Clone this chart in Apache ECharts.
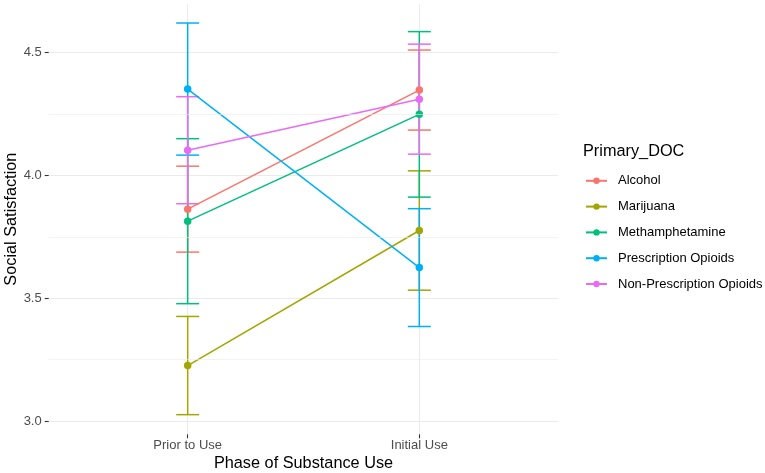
<!DOCTYPE html>
<html>
<head>
<meta charset="utf-8">
<script src="https://cdn.jsdelivr.net/npm/echarts@6/dist/echarts.min.js"></script>
<style>html,body{margin:0;padding:0;background:#fff}#c{width:765px;height:473px}</style>
</head>
<body>
<div id="c"></div>
<script>
// ---- data ----
var categories = ['Prior to Use', 'Initial Use'];
var groupNames = ['Alcohol', 'Marijuana', 'Methamphetamine', 'Prescription Opioids', 'Non-Prescription Opioids'];
var groupColors = ['#F8766D', '#A3A500', '#00BF7D', '#00B0F6', '#E76BF3'];
var alcoholMean = [3.863, 4.348];
var alcoholSE = [0.175, 0.163];
var marijuanaMean = [3.226, 3.776];
var marijuanaSE = [0.200, 0.243];
var methMean = [3.814, 4.249];
var methSE = [0.336, 0.337];
var rxOpioidMean = [4.352, 3.625];
var rxOpioidSE = [0.269, 0.240];
var nonRxOpioidMean = [4.103, 4.311];
var nonRxOpioidSE = [0.218, 0.224];
var yMajorTicks = [3.0, 3.5, 4.0, 4.5];
var yMinorTicks = [3.25, 3.75, 4.25];

var means = [alcoholMean, marijuanaMean, methMean, rxOpioidMean, nonRxOpioidMean];
var ses = [alcoholSE, marijuanaSE, methSE, rxOpioidSE, nonRxOpioidSE];
var xPos = categories.map(function (c, i) { return i + 1; });

var FONT = 'Liberation Sans, Arial, sans-serif';
var chart = echarts.init(document.getElementById('c'), null, { renderer: 'canvas' });

var series = [];
// error bars
groupNames.forEach(function (name, g) {
  var d = xPos.map(function (x, i) {
    return [x, means[g][i] - ses[g][i], means[g][i] + ses[g][i]];
  });
  series.push({
    type: 'custom',
    name: name + ' SE',
    z: 1,
    silent: true,
    data: d,
    renderItem: function (params, api) {
      var x = api.value(0);
      var lo = api.coord([x, api.value(1)]);
      var hi = api.coord([x, api.value(2)]);
      var hw = 11.5;
      var st = { stroke: groupColors[g], lineWidth: 1.5 };
      return {
        type: 'group',
        children: [
          { type: 'line', shape: { x1: lo[0], y1: lo[1], x2: hi[0], y2: hi[1] }, style: st },
          { type: 'line', shape: { x1: lo[0] - hw, y1: lo[1], x2: lo[0] + hw, y2: lo[1] }, style: st },
          { type: 'line', shape: { x1: hi[0] - hw, y1: hi[1], x2: hi[0] + hw, y2: hi[1] }, style: st }
        ]
      };
    }
  });
});
// lines + points
groupNames.forEach(function (name, g) {
  series.push({
    type: 'line',
    name: name,
    z: 2,
    data: xPos.map(function (x, i) { return [x, means[g][i]]; }),
    symbol: 'circle',
    symbolSize: 7.5,
    showSymbol: true,
    itemStyle: { color: groupColors[g] },
    lineStyle: { color: groupColors[g], width: 1.5 },
    emphasis: { disabled: true },
    animation: false
  });
});
// minor gridlines
series.push({
  type: 'line',
  name: 'minorgrid',
  data: [],
  z: 0,
  silent: true,
  markLine: {
    silent: true,
    symbol: 'none',
    label: { show: false },
    lineStyle: { color: '#EBEBEB', width: 0.6, type: 'solid' },
    data: yMinorTicks.map(function (v) { return { yAxis: v }; }),
    animation: false
  }
});

chart.setOption({
  animation: false,
  backgroundColor: '#ffffff',
  textStyle: { fontFamily: FONT },
  grid: { left: 48.7, right: 206.7, top: 4, bottom: 38.7, containLabel: false, outerBoundsMode: 'none' },
  title: {
    text: 'Primary_DOC',
    left: 583, top: 142, padding: 0,
    textStyle: { fontFamily: FONT, fontSize: 16.3, fontWeight: 'normal', color: '#000', lineHeight: 20 }
  },
  legend: {
    data: groupNames,
    orient: 'vertical',
    left: 585, top: 173.8,
    itemWidth: 21, itemHeight: 8, itemGap: 11.8,
    padding: 0,
    textStyle: { fontFamily: FONT, fontSize: 13, lineHeight: 14, color: '#000', padding: [0, 0, 0, 6] },
    selectedMode: false
  },
  xAxis: {
    type: 'value',
    min: 0.4, max: 2.6,
    name: 'Phase of Substance Use',
    nameLocation: 'middle',
    nameGap: 21.5,
    nameMoveOverlap: false,
    nameTextStyle: { fontFamily: FONT, fontSize: 16.3, color: '#000' },
    axisLine: { show: false },
    axisTick: { show: true, customValues: xPos, length: 4, lineStyle: { color: '#333', width: 1.1 } },
    axisLabel: {
      customValues: xPos, margin: 5,
      fontFamily: FONT, fontSize: 13, color: '#4D4D4D',
      formatter: function (v) { return categories[Math.round(v) - 1] || ''; }
    },
    splitLine: { show: true, lineStyle: { color: '#EBEBEB', width: 1.1 } }
  },
  yAxis: {
    type: 'value',
    min: 2.946, max: 4.6985,
    name: 'Social Satisfaction',
    nameLocation: 'middle',
    nameRotate: 90,
    nameGap: 29.5,
    nameMoveOverlap: false,
    nameTextStyle: { fontFamily: FONT, fontSize: 16.3, color: '#000' },
    axisLine: { show: false },
    axisTick: { show: true, customValues: yMajorTicks, length: 4, lineStyle: { color: '#333', width: 1.1 } },
    axisLabel: {
      customValues: yMajorTicks, margin: 7,
      fontFamily: FONT, fontSize: 13, color: '#4D4D4D',
      formatter: function (v) { return v.toFixed(1); }
    },
    splitLine: { show: true, lineStyle: { color: '#EBEBEB', width: 1.1 } }
  },
  series: series
});
</script>
</body>
</html>
